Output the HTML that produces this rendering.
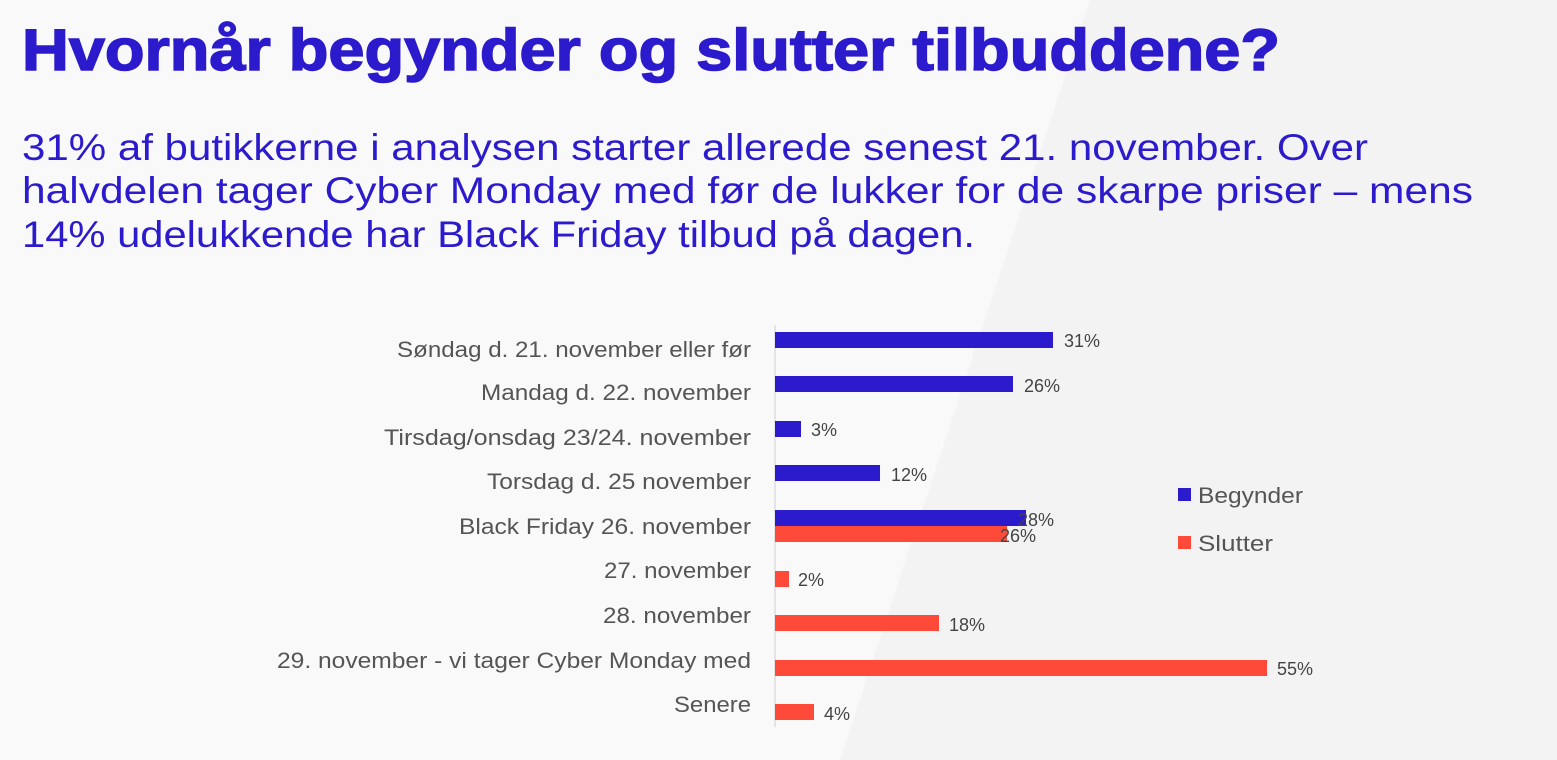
<!DOCTYPE html>
<html><head><meta charset="utf-8"><style>
html,body{margin:0;padding:0;background:#f8f8f8;}
svg{display:block}
</style></head><body>
<svg width="1557" height="760" xmlns="http://www.w3.org/2000/svg" font-family="Liberation Sans, sans-serif">
<rect width="1557" height="760" fill="#f9f9f9"/>
<polygon points="1090,0 1557,0 1557,760 840,760" fill="#f3f3f3"/>
<text x="22" y="70" font-size="58" font-weight="bold" fill="#2b1bcc" stroke="#2b1bcc" stroke-width="1.5" textLength="1258" lengthAdjust="spacingAndGlyphs">Hvornår begynder og slutter tilbuddene?</text>
<g font-size="37" fill="#2b1bcc">
<text x="22" y="160" textLength="1346" lengthAdjust="spacingAndGlyphs">31% af butikkerne i analysen starter allerede senest 21. november. Over</text>
<text x="22" y="203" textLength="1451" lengthAdjust="spacingAndGlyphs">halvdelen tager Cyber Monday med før de lukker for de skarpe priser – mens</text>
<text x="22" y="247" textLength="953" lengthAdjust="spacingAndGlyphs">14% udelukkende har Black Friday tilbud på dagen.</text>
</g>
<line x1="775" y1="325" x2="775" y2="727" stroke="#d0d0d0" stroke-width="1"/>
<g font-size="22" fill="#555" text-anchor="end" lengthAdjust="spacingAndGlyphs">
<text x="751" y="357" textLength="354" lengthAdjust="spacingAndGlyphs">Søndag d. 21. november eller før</text>
<text x="751" y="400" textLength="270" lengthAdjust="spacingAndGlyphs">Mandag d. 22. november</text>
<text x="751" y="445" textLength="367" lengthAdjust="spacingAndGlyphs">Tirsdag/onsdag 23/24. november</text>
<text x="751" y="489" textLength="264" lengthAdjust="spacingAndGlyphs">Torsdag d. 25 november</text>
<text x="751" y="534" textLength="292" lengthAdjust="spacingAndGlyphs">Black Friday 26. november</text>
<text x="751" y="578" textLength="147" lengthAdjust="spacingAndGlyphs">27. november</text>
<text x="751" y="623" textLength="148" lengthAdjust="spacingAndGlyphs">28. november</text>
<text x="751" y="668" textLength="474" lengthAdjust="spacingAndGlyphs">29. november - vi tager Cyber Monday med</text>
<text x="751" y="712" textLength="77" lengthAdjust="spacingAndGlyphs">Senere</text>
</g>
<g fill="#2b1bcc">
<rect x="775" y="332" width="278" height="16"/>
<rect x="775" y="376" width="238" height="16"/>
<rect x="775" y="421" width="26" height="16"/>
<rect x="775" y="465" width="105" height="16"/>
<rect x="775" y="510" width="251" height="16"/>
</g>
<g fill="#ff4a3a">
<rect x="775" y="526" width="232" height="16"/>
<rect x="775" y="571" width="14" height="16"/>
<rect x="775" y="615" width="164" height="16"/>
<rect x="775" y="660" width="492" height="16"/>
<rect x="775" y="704" width="39" height="16"/>
</g>
<g font-size="18" fill="#444">
<text x="1064" y="347">31%</text>
<text x="1024" y="392">26%</text>
<text x="811" y="436">3%</text>
<text x="891" y="481">12%</text>
<text x="1018" y="526">28%</text>
<text x="1000" y="542">26%</text>
<text x="798" y="586">2%</text>
<text x="949" y="631">18%</text>
<text x="1277" y="675">55%</text>
<text x="824" y="720">4%</text>
</g>
<rect x="1178" y="488" width="13" height="13" fill="#2b1bcc"/>
<rect x="1178" y="536" width="13" height="13" fill="#ff4a3a"/>
<g font-size="22" fill="#555">
<text x="1198" y="503" textLength="105" lengthAdjust="spacingAndGlyphs">Begynder</text>
<text x="1198" y="551" textLength="75" lengthAdjust="spacingAndGlyphs">Slutter</text>
</g>
</svg>
</body></html>
